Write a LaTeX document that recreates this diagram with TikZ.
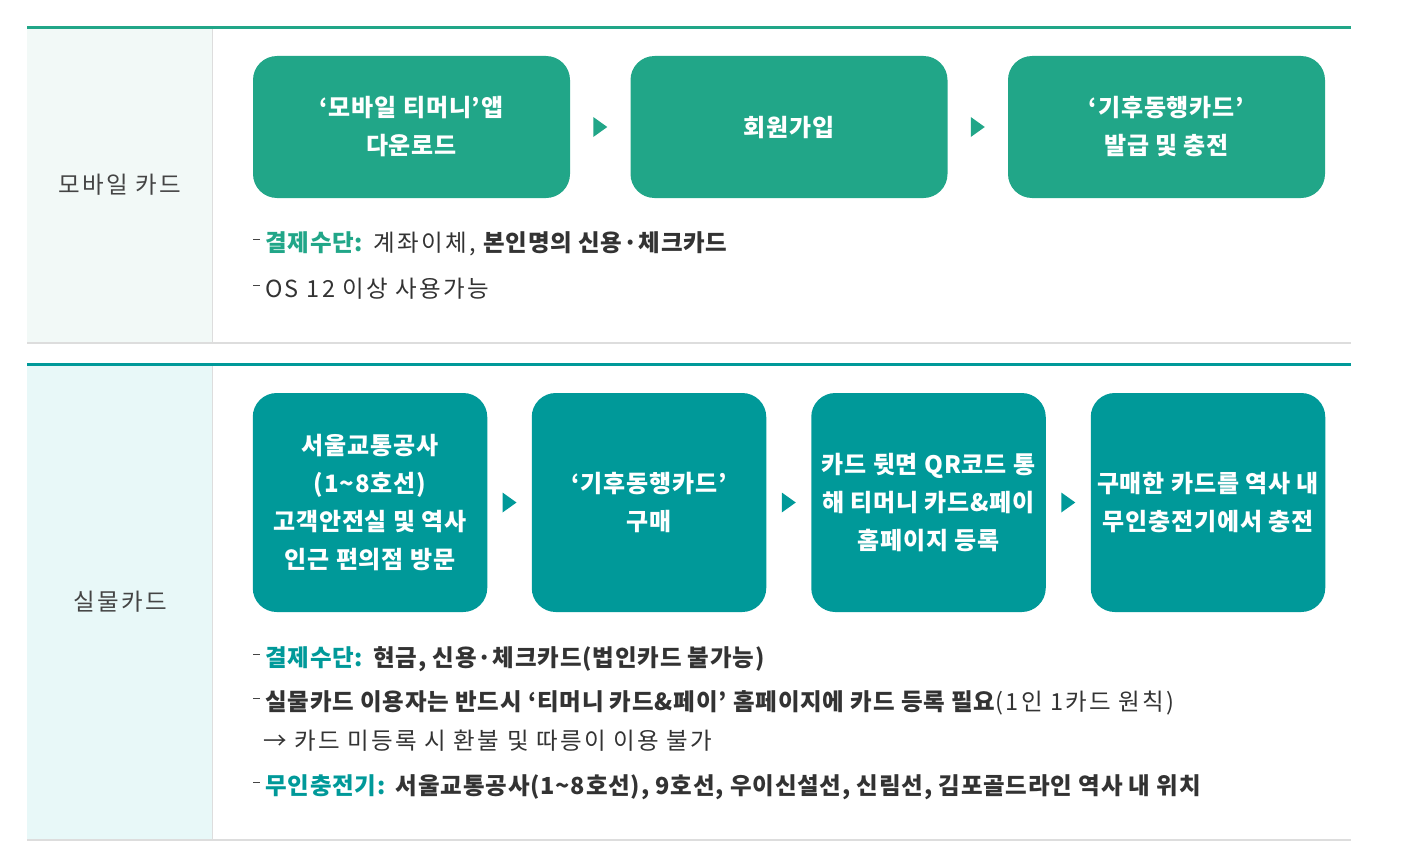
\documentclass[tikz,border=0pt]{standalone}
\usepackage{fontspec}
\setmainfont{Noto Sans CJK KR}[UprightFeatures={LetterSpace=10}, BoldFeatures={LetterSpace=3.5}]
\usetikzlibrary{calc}
\definecolor{mgreen}{HTML}{21A688}
\definecolor{mteal}{HTML}{009999}
\definecolor{bgone}{HTML}{F2F9F7}
\definecolor{bgtwo}{HTML}{E8F8F8}
\definecolor{gline}{HTML}{DDDDDD}
\definecolor{dtext}{HTML}{333333}
\definecolor{ltext}{HTML}{444444}
\definecolor{dashgrey}{HTML}{444444}
\newcommand\dashmark{\textcolor{dashgrey}{\rule[0.48em]{7pt}{1.6pt}}\hspace{5pt}}
\begin{document}
\begin{tikzpicture}[x=1pt,y=-1pt,
  flowbox/.style={fill=#1, rounded corners=24pt, text=white, align=center,
    inner sep=0pt, font=\bfseries\fontsize{24}{38}\selectfont},
  topbox/.style={flowbox=mgreen, minimum width=317pt, minimum height=142pt},
  botbox/.style={flowbox=mteal, minimum width=234.5pt, minimum height=219pt},
  rowlabel/.style={text=ltext, font=\fontsize{23.5}{30}\selectfont, inner sep=0pt},
  textline/.style={anchor=base west, text=dtext, inner sep=0pt, font=\fontsize{23.5}{30}\selectfont},
  tri/.style={fill=#1}
]
\useasboundingbox (0,0) rectangle (1408,859);
% ---------- section 1 frame
\fill[bgone] (27,29) rectangle (212,343);
\draw[gline, line width=1pt] (212,29) -- (212,343);
\draw[gline, line width=1.5pt] (27,343) -- (1351,343);
\fill[mgreen] (27,26.5) rectangle (1351,29.5);
% ---------- section 2 frame
\fill[bgtwo] (27,366) rectangle (212,840);
\draw[gline, line width=1pt] (212,366) -- (212,840);
\draw[gline, line width=1.5pt] (27,840) -- (1351,840);
\fill[mteal] (27,363) rectangle (1351,366);
% ---------- labels
\node[rowlabel] (lab1) at (120,185) {모바일 카드};
\node[rowlabel] (lab2) at (120,602) {실물카드};
% ---------- mobile flow
\node[topbox] (m1) at (411.5,127) {‘모바일 티머니’앱\\다운로드};
\node[topbox] (m2) at (789,127) {회원가입};
\node[topbox] (m3) at (1166.5,127) {‘기후동행카드’\\발급 및 충전};
\foreach \a/\b in {m1/m2, m2/m3}{
  \fill[tri=mgreen] ($(\a.east)!0.5!(\b.west)$) ++(-7,-10) -- ++(14,10) -- ++(-14,10) -- cycle;
}
% ---------- physical flow
\node[botbox] (p1) at (370,502.5) {서울교통공사\\(1\textasciitilde 8호선)\\고객안전실 및 역사\\인근 편의점 방문};
\node[botbox] (p2) at (649,502.5) {‘기후동행카드’\\구매};
\node[botbox] (p3) at (928.5,502.5) {카드 뒷면 QR코드 통\\해 티머니 카드\&페이\\홈페이지 등록};
\node[botbox] (p4) at (1208,502.5) {구매한 카드를 역사 내\\무인충전기에서 충전};
\foreach \a/\b in {p1/p2, p2/p3, p3/p4}{
  \fill[tri=mteal] ($(\a.east)!0.5!(\b.west)$) ++(-7,-10) -- ++(14,10) -- ++(-14,10) -- cycle;
}
% ---------- notes section 1
\node[textline] (t1) at (253,251.5) {\dashmark\textcolor{mgreen}{\bfseries 결제수단:} 계좌이체, {\bfseries 본인명의 신용·체크카드}};
\node[textline] (t2) at (253,297.5) {\dashmark OS 12 이상 사용가능};
% ---------- notes section 2
\node[textline] (b1) at (253,666.5) {\dashmark\textcolor{mteal}{\bfseries 결제수단:} {\bfseries 현금, 신용·체크카드(법인카드 불가능)}};
\node[textline] (b2) at (253,710.5) {\dashmark{\bfseries 실물카드 이용자는 반드시 ‘티머니 카드\&페이’ 홈페이지에 카드 등록 필요}(1인 1카드 원칙)};
\node[textline] (b3) at (263,749.5) {→ 카드 미등록 시 환불 및 따릉이 이용 불가};
\node[textline] (b4) at (253,794.5) {\dashmark\textcolor{mteal}{\bfseries 무인충전기:} {\bfseries 서울교통공사(1\textasciitilde 8호선), 9호선, 우이신설선, 신림선, 김포골드라인 역사 내 위치}};
\end{tikzpicture}
\end{document}
